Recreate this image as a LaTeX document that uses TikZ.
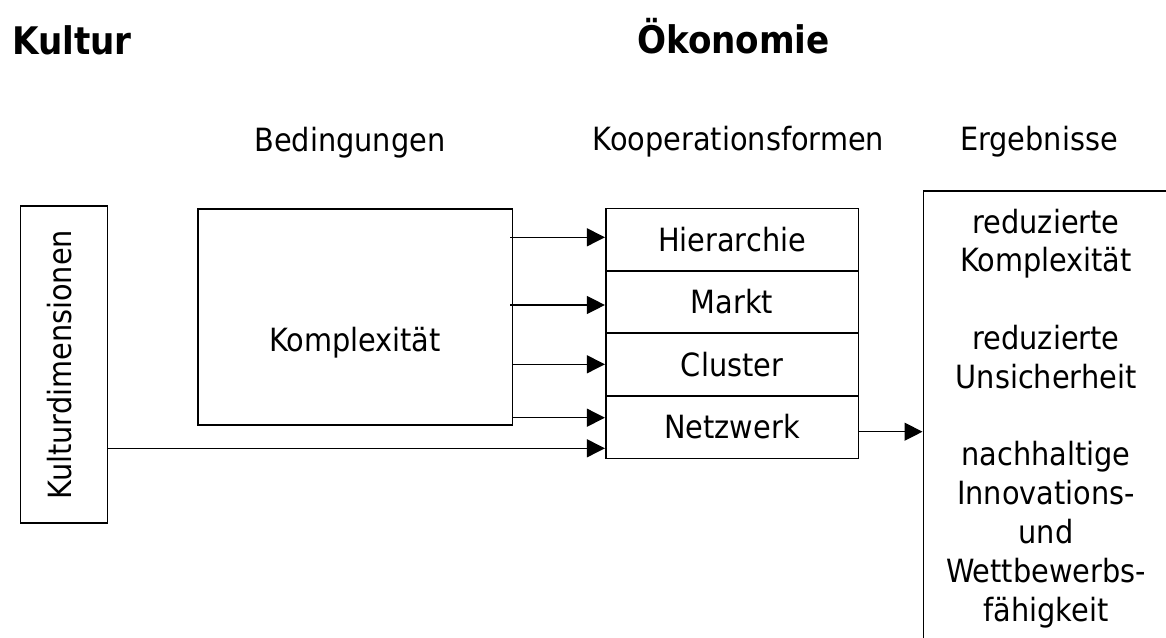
\documentclass[tikz,border=0pt]{standalone}
\usepackage{fontspec}
\setmainfont{DejaVu Sans Condensed}
\usetikzlibrary{arrows.meta}
\begin{document}
\begin{tikzpicture}[x=1pt,y=-1pt,
  box/.style={draw, line width=1.6pt, inner sep=0pt},
  arr/.style={-{Triangle[length=18pt,width=18pt]}, line width=1.3pt},
  txt/.style={font=\fontsize{32}{38.8}\selectfont, inner sep=0pt},
  head/.style={font=\fontsize{38}{46}\selectfont\bfseries, inner sep=0pt},
  row/.style={box, minimum width=252.6pt, minimum height=62.4pt,
    txt, text height=23.3pt, text depth=0pt}]
\useasboundingbox (0,0) rectangle (1166,637);
\clip (0,0) rectangle (1166,637);

% headings
\node[head, anchor=base west] (tkultur) at (12,54) {Kultur};
\node[head, anchor=base] (toekon) at (733.5,53) {Ökonomie};
\node[txt, anchor=base] (tbed) at (350,151.5) {Bedingungen};
\node[txt, anchor=base] (tkoop) at (738.5,150) {Kooperationsformen};
\node[txt, anchor=base] (terg) at (1039,150) {Ergebnisse};

% culture dimensions
\node[box, minimum width=86.9pt, minimum height=317pt] (kd) at (64.05,364.5) {};
\node[txt, rotate=90, anchor=base] (tkd) at (71,364.5) {Kulturdimensionen};

% conditions
\node[box, minimum width=314.6pt, minimum height=216.3pt] (kx) at (355,316.85) {};
\node[txt, anchor=base] (tkx) at (355,351) {Komplexität};

% forms of cooperation
\node[row] (h) at (732,239.7) {Hierarchie};
\node[row] (m) at (732,302.0) {Markt};
\node[row] (c) at (732,364.65) {Cluster};
\node[row] (n) at (732,427.15) {Netzwerk};

% results
\node[box, anchor=north west, minimum width=246pt, minimum height=520pt] (erg) at (922.5,190) {};
\node[txt, anchor=base] (r1) at (1046,233.0) {reduzierte};
\node[txt, anchor=base] (r2) at (1046,271.8) {Komplexität};
\node[txt, anchor=base] (r3) at (1046,349.4) {reduzierte};
\node[txt, anchor=base] (r4) at (1046,388.2) {Unsicherheit};
\node[txt, anchor=base] (r5) at (1046,465.8) {nachhaltige};
\node[txt, anchor=base] (r6) at (1046,504.6) {Innovations-};
\node[txt, anchor=base] (r7) at (1046,543.4) {und};
\node[txt, anchor=base] (r8) at (1046,582.2) {Wettbewerbs-};
\node[txt, anchor=base] (r9) at (1046,621.0) {fähigkeit};

% connectors
\draw[arr] ([xshift=-3pt]kx.east |- 0,237.3) -- (h.west |- 0,237.3);
\draw[arr] ([xshift=-3pt]kx.east |- 0,305.0) -- (m.west |- 0,305.0);
\draw[arr] (kx.east |- 0,364.3) -- (c.west |- 0,364.3);
\draw[arr] (kx.east |- 0,417.7) -- (n.west |- 0,417.7);
\draw[arr] (kd.east |- 0,448.3) -- (n.west |- 0,448.3);
\draw[arr] (n.east |- 0,431.7) -- (erg.west |- 0,431.7);
\end{tikzpicture}
\end{document}
